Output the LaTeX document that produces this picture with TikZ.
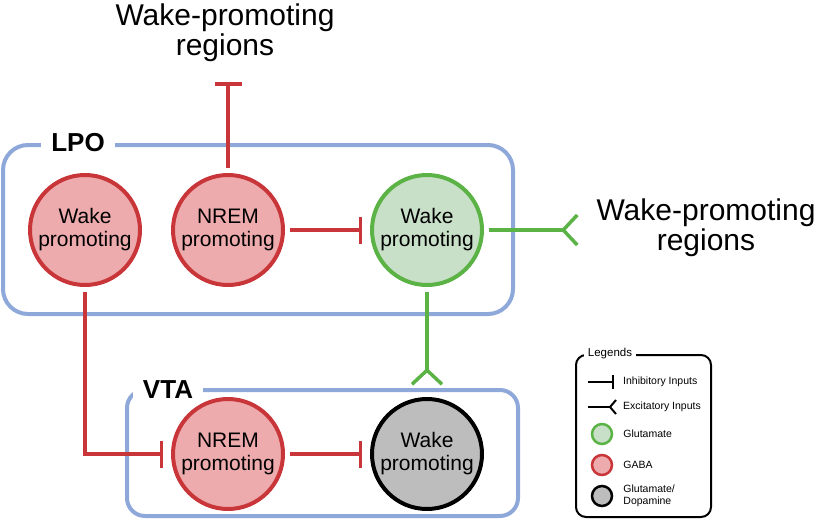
\documentclass[tikz,border=0pt]{standalone}
\usepackage{fontspec}
\setmainfont{Liberation Sans}
\usetikzlibrary{positioning}
\usetikzlibrary{arrows.meta}
\definecolor{red(gaba)}{HTML}{C8363A}
\definecolor{pink(gaba)}{HTML}{EEABAD}
\definecolor{green(glu)}{HTML}{5BB346}
\definecolor{mint(glu)}{HTML}{C8DFC8}
\definecolor{grey(da)}{HTML}{BDBDBD}
\definecolor{blue(region)}{HTML}{8FA8DA}
\tikzset {
        cellnode/.style={circle, inner sep=0pt, minimum size=110pt, line width=4pt, align=center, font=\fontsize{21}{23}\selectfont},
        gaba/.style={cellnode, draw=red(gaba), fill=pink(gaba)},
        glu/.style={cellnode, draw=green(glu), fill=mint(glu)},
        gluda/.style={cellnode, draw=black, fill=grey(da)},
        inhib/.style={draw=red(gaba), line width=3.5pt, -{Bar[width=27pt]}, shorten <=5pt, shorten >=8pt},
        excit/.style={draw=green(glu), line width=3.5pt, -{Straight Barb[reversed,length=14pt,width=30pt]}, shorten <=5pt},
        regionbox/.style={draw=blue(region), line width=4pt, rounded corners=25pt},
        regionlabel/.style={fill=white, inner xsep=10pt, font=\fontsize{26}{26}\selectfont\bfseries},
        bigtext/.style={align=center, font=\fontsize{30}{30}\selectfont},
        keynode/.style={circle, inner sep=0pt, minimum size=20pt, line width=2.5pt},
        keytext/.style={align=left, inner sep=0pt, font=\fontsize{10.5}{12}\selectfont}
}

\begin{document}
\begin{tikzpicture}[x=1pt, y=-1pt]
            \useasboundingbox (0,0) rectangle (820,525);
            % regions
            \draw[regionbox] (3,145) rectangle (513,314);
            \node[regionlabel] (LPO) at (78,143) {LPO};
            \draw[regionbox, rounded corners=18pt] (127,390) rectangle (518,516);
            \node[regionlabel] (VTA) at (168,390) {VTA};
            % cells
            \node[gaba] (LPOWake) at (85,230) {Wake\\promoting};
            \node[gaba, right=29pt of LPOWake] (LPONrem) {NREM\\promoting};
            \node[glu, right=85pt of LPONrem] (LPOGlu) {Wake\\promoting};
            \node[gaba] (VTANrem) at (228,454) {NREM\\promoting};
            \node[gluda, right=85pt of VTANrem] (VTAWake) {Wake\\promoting};
            % targets
            \node[bigtext] (TopTarget) at (225,33) {Wake-promoting\\regions};
            \node[bigtext] (RightTarget) at (706,228) {Wake-promoting\\regions};
            \coordinate (TopEnd) at (228,82);
            \coordinate (RightEnd) at (579,230);
            \coordinate (VTAEnd) at (427,386);
            % connections
            \draw[inhib, shorten >=0pt] (LPONrem) -- (TopEnd);
            \draw[inhib] (LPONrem) -- (LPOGlu);
            \draw[inhib] (LPOWake) |- (VTANrem);
            \draw[inhib] (VTANrem) -- (VTAWake);
            \draw[excit] (LPOGlu) -- (RightEnd);
            \draw[excit] (LPOGlu) -- (VTAEnd);
            % legend
            \draw[line width=2pt, rounded corners=10pt] (576,355) rectangle (711,517);
            \node[fill=white, inner xsep=4pt, font=\fontsize{11.5}{12}\selectfont] (Legends) at (610,354) {Legends};
            \coordinate (InhStart) at (588,382);
            \coordinate (InhEnd) at (614,382);
            \draw[line width=2pt, -{Bar[width=14pt]}] (InhStart) -- (InhEnd);
            \node[keytext, right=9pt of InhEnd] (InhText) {Inhibitory Inputs};
            \coordinate (ExcStart) at (588,407);
            \coordinate (ExcEnd) at (617,407);
            \draw[line width=2pt, -{Straight Barb[reversed,length=6pt,width=14pt]}] (ExcStart) -- (ExcEnd);
            \node[keytext, right=6pt of ExcEnd] (ExcText) {Excitatory Inputs};
            \node[keynode, draw=green(glu), fill=mint(glu)] (KeyGlu) at (602,434) {};
            \node[keytext, right=10pt of KeyGlu] (GluText) {Glutamate};
            \node[keynode, draw=red(gaba), fill=pink(gaba)] (KeyGaba) at (602,465) {};
            \node[keytext, right=10pt of KeyGaba] (GabaText) {GABA};
            \node[keynode, draw=black, fill=grey(da)] (KeyDa) at (602,496) {};
            \node[keytext, right=10pt of KeyDa] (DaText) {Glutamate/\\Dopamine};
        \end{tikzpicture}
\end{document}
